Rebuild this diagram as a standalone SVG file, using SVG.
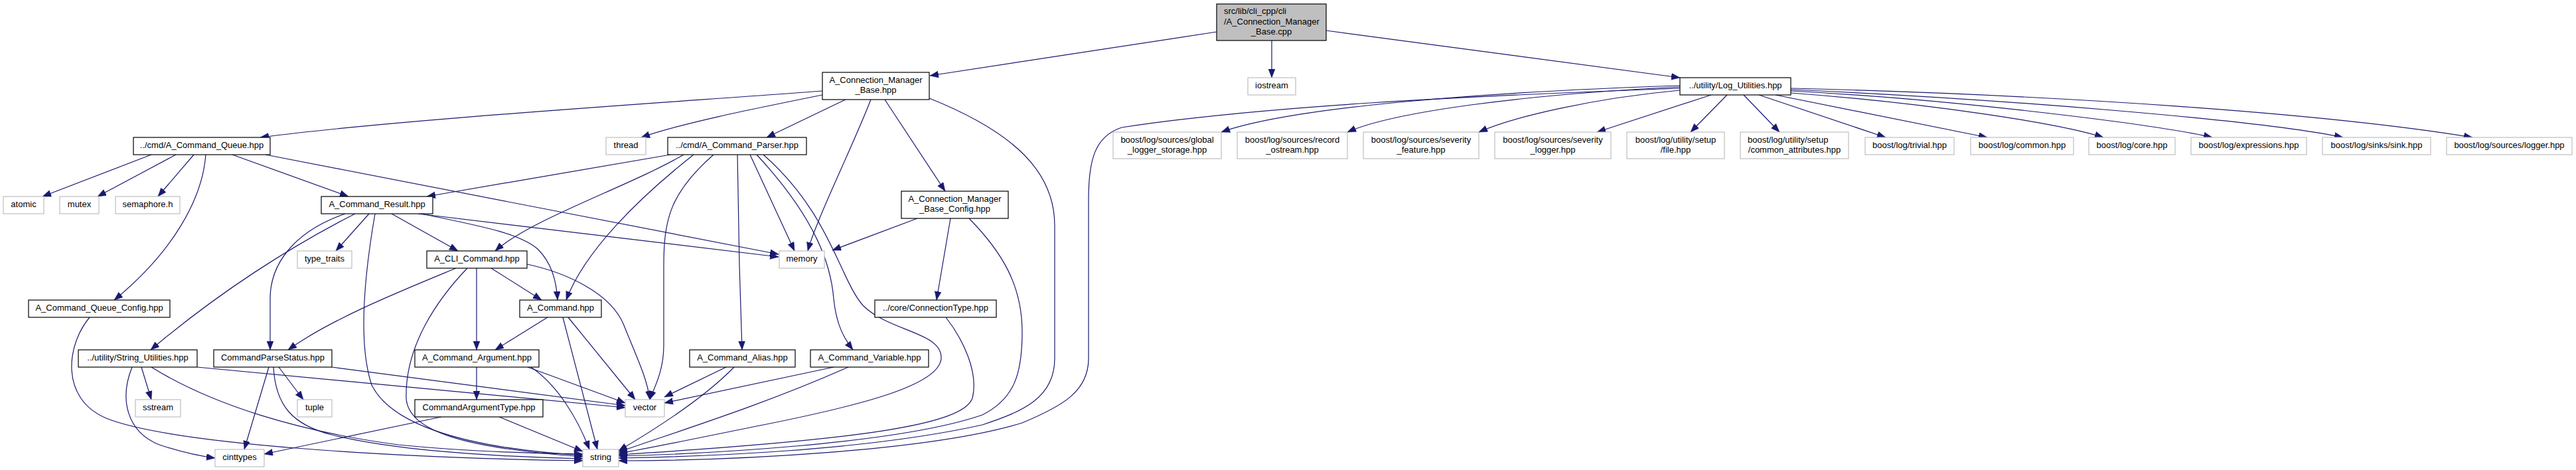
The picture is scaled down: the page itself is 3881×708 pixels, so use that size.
<svg xmlns="http://www.w3.org/2000/svg" width="3881" height="708" viewBox="0 0 3881 708">
<style>
rect{fill:#fff;stroke:#000;stroke-width:1.2}
.g rect{stroke:#bfbfbf}
#root rect{fill:#bfbfbf}
text{font-family:"Liberation Sans",Arial,sans-serif;font-size:13px;fill:#000;text-anchor:middle}
text.l{text-anchor:start}
#edges path{fill:none;stroke:#191970;stroke-width:1.2;marker-end:url(#a)}
</style>
<defs>
<marker id="a" markerUnits="userSpaceOnUse" markerWidth="14" markerHeight="11" viewBox="0 0 14 11" refX="13" refY="5" orient="auto"><path d="M0,0 L13,5 L0,10 z" fill="#191970" stroke="#191970" stroke-width="0.5"/></marker>
</defs>
<rect x="0" y="0" width="3881" height="708" style="fill:#fff;stroke:none"/>
<g id="edges">
<path d="M1833,48 L1401,114"/>
<path d="M1916,61 L1916,117"/>
<path d="M1998,46 L2531,117"/>
<path d="M1239,137 C1000,155 600,180 392,207"/>
<path d="M1239,143 C1130,165 1030,185 966,207"/>
<path d="M1274,150 L1155,207"/>
<path d="M1312,150 C1285,220 1230,330 1217,378"/>
<path d="M1333,150 L1424,288"/>
<path d="M1400,148 C1530,200 1589,260 1589,340 L1589,540 C1589,600 1540,620 1480,640 C1300,680 1050,688 932,690"/>
<path d="M2531,133 C2200,145 1900,160 1690,192 C1650,205 1640,240 1640,300 L1640,540 C1640,590 1600,612 1540,637 C1400,680 1100,694 932,694"/>
<path d="M2531,129 C2250,138 1950,160 1840,199"/>
<path d="M2531,131 C2300,142 2100,168 2030,199"/>
<path d="M2531,136 C2400,148 2280,176 2228,199"/>
<path d="M2578,143 L2406,199"/>
<path d="M2602,143 L2547,199"/>
<path d="M2627,143 L2681,199"/>
<path d="M2650,143 L2841,207"/>
<path d="M2675,143 L2994,207"/>
<path d="M2698,140 C2900,155 3100,185 3169,207"/>
<path d="M2698,137 C2950,150 3250,188 3333,207"/>
<path d="M2698,135 C3000,148 3400,180 3530,207"/>
<path d="M2698,133 C3100,143 3500,170 3725,207"/>
<path d="M228,233 L64,296"/>
<path d="M265,233 L147,296"/>
<path d="M292,233 L238,296"/>
<path d="M310,233 C305,300 260,380 172,452"/>
<path d="M350,233 L525,296"/>
<path d="M400,233 L1173,383"/>
<path d="M1010,233 L643,296"/>
<path d="M1030,233 C950,280 800,330 746,378"/>
<path d="M1045,233 C960,300 880,380 853,452"/>
<path d="M1075,233 C1010,290 1000,330 1000,400 L1000,520 C1000,560 985,585 979,602"/>
<path d="M1111,233 L1114,400 L1118,527"/>
<path d="M1130,233 L1197,378"/>
<path d="M1140,233 C1230,330 1252,400 1256,450 C1260,490 1272,510 1285,527"/>
<path d="M1150,233 C1250,320 1265,420 1300,460 C1340,500 1420,500 1418,540 C1415,580 1300,610 1150,640 C1050,660 980,675 932,683"/>
<path d="M1382,329 L1254,377"/>
<path d="M1432,329 L1411,452"/>
<path d="M1460,329 C1510,380 1540,430 1540,500 C1540,560 1530,600 1480,625 C1350,670 1050,684 932,687"/>
<path d="M1425,478 C1450,510 1475,560 1465,600 C1450,640 1300,662 932,685"/>
<path d="M535,322 C440,370 330,440 227,527"/>
<path d="M520,322 C440,350 407,400 407,450 L407,527"/>
<path d="M556,322 L506,378"/>
<path d="M565,322 C548,420 540,520 560,580 C590,640 700,675 878,686"/>
<path d="M590,322 L690,378"/>
<path d="M630,322 L1173,387"/>
<path d="M635,322 C720,340 780,350 810,375 C830,395 838,420 840,452"/>
<path d="M687,404 C600,440 500,480 434,527"/>
<path d="M704,404 C660,450 610,520 612,600 C615,650 700,675 878,688"/>
<path d="M718,404 L718,527"/>
<path d="M740,404 L816,452"/>
<path d="M794,398 C850,410 920,440 940,490 C960,540 975,570 979,602"/>
<path d="M825,478 L746,527"/>
<path d="M848,478 L900,677"/>
<path d="M856,478 L957,602"/>
<path d="M718,553 L718,602"/>
<path d="M795,553 L942,607"/>
<path d="M800,553 C840,580 870,630 888,677"/>
<path d="M665,628 L398,684"/>
<path d="M752,628 L878,680"/>
<path d="M405,553 L368,677"/>
<path d="M420,553 L457,602"/>
<path d="M412,553 C415,610 440,640 500,655 C600,680 750,688 878,691"/>
<path d="M500,553 L942,611"/>
<path d="M213,553 L228,602"/>
<path d="M199,553 C180,600 190,650 240,670 C270,680 300,687 324,690"/>
<path d="M228,553 C320,610 450,650 600,670 C700,680 800,683 878,684"/>
<path d="M297,553 L942,614"/>
<path d="M135,478 C100,520 90,600 160,630 C260,670 600,690 878,694"/>
<path d="M1094,553 L1001,598"/>
<path d="M1106,553 C1060,600 990,645 932,679"/>
<path d="M1256,553 L1001,607"/>
<path d="M1278,553 C1150,610 1020,650 932,681"/>
</g>
<g id="root"><rect x="1833" y="6" width="165" height="55"/><text class="l" x="1844" y="21">src/lib/cli_cpp/cli</text><text class="l" x="1844" y="36.5">/A_Connection_Manager</text><text x="1915.5" y="51.5">_Base.cpp</text></g>
<g id="n_cmb"><rect x="1239" y="109" width="161" height="41"/><text x="1319.5" y="125">A_Connection_Manager</text><text x="1319.5" y="140">_Base.hpp</text></g>
<g id="n_iostream" class="g"><rect x="1880" y="117" width="72" height="26"/><text x="1916" y="133">iostream</text></g>
<g id="n_log"><rect x="2531" y="117" width="167" height="26"/><text x="2614.5" y="133">../utility/Log_Utilities.hpp</text></g>
<g id="n_queue"><rect x="201" y="207" width="206" height="26"/><text x="304" y="223">../cmd/A_Command_Queue.hpp</text></g>
<g id="n_thread" class="g"><rect x="913" y="207" width="60" height="26"/><text x="943" y="223">thread</text></g>
<g id="n_parser"><rect x="1006" y="207" width="209" height="26"/><text x="1110.5" y="223">../cmd/A_Command_Parser.hpp</text></g>
<g id="n_global" class="g"><rect x="1677" y="199" width="163" height="40"/><text x="1758.5" y="215">boost/log/sources/global</text><text x="1758.5" y="230">_logger_storage.hpp</text></g>
<g id="n_record" class="g"><rect x="1864" y="199" width="166" height="40"/><text x="1947" y="215">boost/log/sources/record</text><text x="1947" y="230">_ostream.hpp</text></g>
<g id="n_sevfeat" class="g"><rect x="2054" y="199" width="174" height="40"/><text x="2141" y="215">boost/log/sources/severity</text><text x="2141" y="230">_feature.hpp</text></g>
<g id="n_sevlog" class="g"><rect x="2252" y="199" width="175" height="40"/><text x="2339.5" y="215">boost/log/sources/severity</text><text x="2339.5" y="230">_logger.hpp</text></g>
<g id="n_file" class="g"><rect x="2451" y="199" width="147" height="40"/><text x="2524.5" y="215">boost/log/utility/setup</text><text x="2524.5" y="230">/file.hpp</text></g>
<g id="n_comattr" class="g"><rect x="2622" y="199" width="163" height="40"/><text class="l" x="2633" y="215">boost/log/utility/setup</text><text x="2703.5" y="230">/common_attributes.hpp</text></g>
<g id="n_trivial" class="g"><rect x="2810" y="207" width="134" height="26"/><text x="2877" y="223">boost/log/trivial.hpp</text></g>
<g id="n_common" class="g"><rect x="2969" y="207" width="155" height="26"/><text x="3046.5" y="223">boost/log/common.hpp</text></g>
<g id="n_core" class="g"><rect x="3147" y="207" width="130" height="26"/><text x="3212" y="223">boost/log/core.hpp</text></g>
<g id="n_expr" class="g"><rect x="3301" y="207" width="174" height="26"/><text x="3388" y="223">boost/log/expressions.hpp</text></g>
<g id="n_sink" class="g"><rect x="3499" y="207" width="163" height="26"/><text x="3580.5" y="223">boost/log/sinks/sink.hpp</text></g>
<g id="n_logger" class="g"><rect x="3686" y="207" width="189" height="26"/><text x="3780.5" y="223">boost/log/sources/logger.hpp</text></g>
<g id="n_atomic" class="g"><rect x="5" y="296" width="61" height="26"/><text x="35.5" y="312">atomic</text></g>
<g id="n_mutex" class="g"><rect x="90" y="296" width="59" height="26"/><text x="119.5" y="312">mutex</text></g>
<g id="n_sem" class="g"><rect x="174" y="296" width="97" height="26"/><text x="222.5" y="312">semaphore.h</text></g>
<g id="n_result"><rect x="484" y="296" width="168" height="26"/><text x="568" y="312">A_Command_Result.hpp</text></g>
<g id="n_config"><rect x="1358" y="288" width="161" height="41"/><text x="1438.5" y="304">A_Connection_Manager</text><text x="1438.5" y="319">_Base_Config.hpp</text></g>
<g id="n_typetraits" class="g"><rect x="448" y="378" width="82" height="26"/><text x="489" y="394">type_traits</text></g>
<g id="n_cli"><rect x="643" y="378" width="151" height="26"/><text x="718.5" y="394">A_CLI_Command.hpp</text></g>
<g id="n_memory" class="g"><rect x="1174" y="378" width="68" height="26"/><text x="1208" y="394">memory</text></g>
<g id="n_qconfig"><rect x="43" y="452" width="213" height="26"/><text x="149.5" y="468">A_Command_Queue_Config.hpp</text></g>
<g id="n_command"><rect x="783" y="452" width="123" height="26"/><text x="844.5" y="468">A_Command.hpp</text></g>
<g id="n_conntype"><rect x="1318" y="452" width="183" height="26"/><text x="1409.5" y="468">../core/ConnectionType.hpp</text></g>
<g id="n_strutil"><rect x="118" y="527" width="179" height="26"/><text x="207.5" y="543">../utility/String_Utilities.hpp</text></g>
<g id="n_cps"><rect x="322" y="527" width="178" height="26"/><text x="411" y="543">CommandParseStatus.hpp</text></g>
<g id="n_arg"><rect x="625" y="527" width="187" height="26"/><text x="718.5" y="543">A_Command_Argument.hpp</text></g>
<g id="n_alias"><rect x="1039" y="527" width="159" height="26"/><text x="1118.5" y="543">A_Command_Alias.hpp</text></g>
<g id="n_var"><rect x="1221" y="527" width="178" height="26"/><text x="1310" y="543">A_Command_Variable.hpp</text></g>
<g id="n_sstream" class="g"><rect x="204" y="602" width="68" height="26"/><text x="238" y="618">sstream</text></g>
<g id="n_tuple" class="g"><rect x="448" y="602" width="52" height="26"/><text x="474" y="618">tuple</text></g>
<g id="n_cat"><rect x="625" y="602" width="193" height="26"/><text x="721.5" y="618">CommandArgumentType.hpp</text></g>
<g id="n_vector" class="g"><rect x="942" y="602" width="59" height="26"/><text x="971.5" y="618">vector</text></g>
<g id="n_cinttypes" class="g"><rect x="324" y="677" width="74" height="26"/><text x="361" y="693">cinttypes</text></g>
<g id="n_string" class="g"><rect x="878" y="677" width="54" height="26"/><text x="905" y="693">string</text></g>
</svg>
